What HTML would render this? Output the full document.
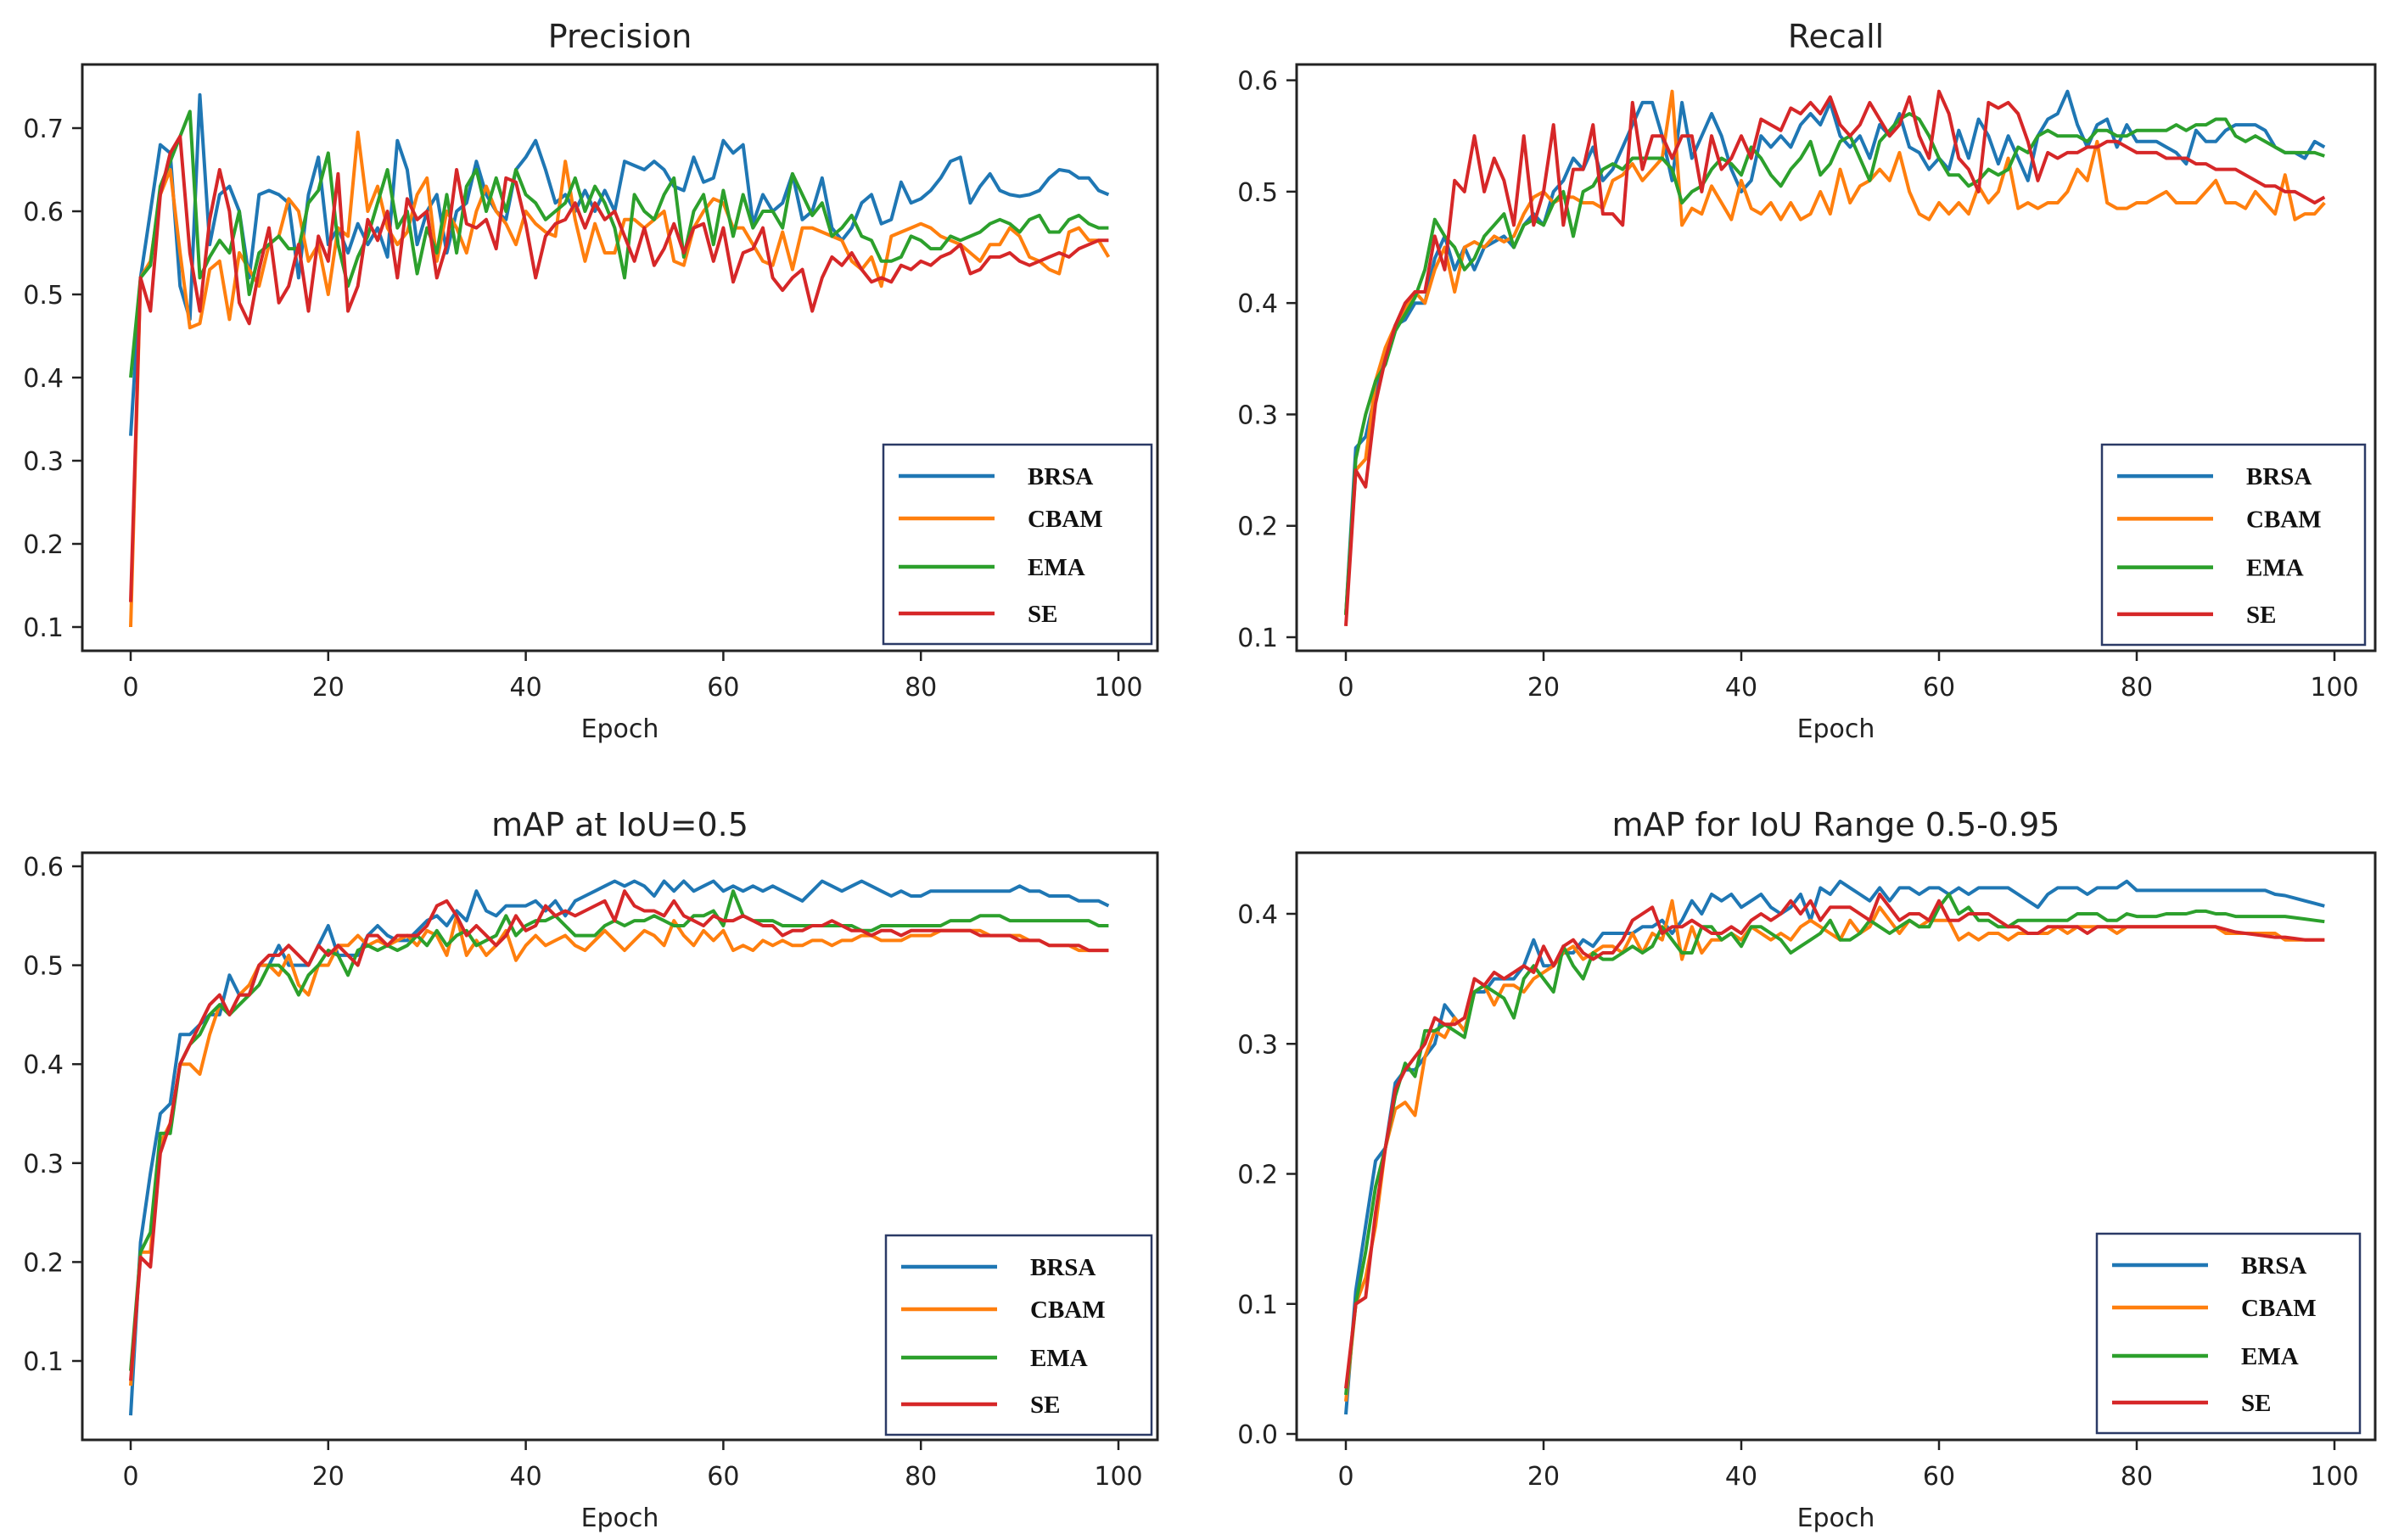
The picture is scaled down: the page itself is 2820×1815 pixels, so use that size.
<!DOCTYPE html>
<html><head><meta charset="utf-8">
<style>
html,body{margin:0;padding:0;background:#fff;}
svg{display:block;}
text{font-family:"DejaVu Sans","Liberation Sans",sans-serif;fill:#222;}
.leg{font-family:"Liberation Serif",serif;font-weight:bold;fill:#111;}
</style></head>
<body>
<svg id="fig" width="2820" height="1815" viewBox="0 0 2820 1815" xmlns="http://www.w3.org/2000/svg"></svg>
<script>
const seriesNames = ["BRSA","CBAM","EMA","SE"];
const seriesColors = ["#1f77b4","#ff7f0e","#2ca02c","#d62728"];
const xTickValues = [0,20,40,60,80,100];

const precisionBRSA=[0.33,0.52,0.60,0.68,0.67,0.51,0.47,0.74,0.56,0.62,0.63,0.60,0.52,0.62,0.625,0.62,0.61,0.52,0.62,0.665,0.56,0.58,0.55,0.585,0.56,0.58,0.545,0.685,0.65,0.56,0.60,0.62,0.55,0.60,0.61,0.66,0.62,0.60,0.59,0.65,0.665,0.685,0.65,0.61,0.62,0.60,0.625,0.60,0.625,0.60,0.66,0.655,0.65,0.66,0.65,0.63,0.625,0.665,0.635,0.64,0.685,0.67,0.68,0.585,0.62,0.60,0.61,0.645,0.59,0.60,0.64,0.58,0.565,0.58,0.61,0.62,0.585,0.59,0.635,0.61,0.615,0.625,0.64,0.66,0.665,0.61,0.63,0.645,0.625,0.62,0.618,0.62,0.625,0.64,0.65,0.648,0.64,0.64,0.625,0.62];
const precisionCBAM=[0.10,0.52,0.54,0.62,0.65,0.55,0.46,0.465,0.53,0.54,0.47,0.55,0.53,0.51,0.56,0.57,0.615,0.60,0.54,0.56,0.50,0.58,0.57,0.695,0.60,0.63,0.58,0.56,0.575,0.62,0.64,0.54,0.60,0.58,0.55,0.60,0.63,0.60,0.585,0.56,0.60,0.585,0.575,0.57,0.66,0.59,0.54,0.585,0.55,0.55,0.59,0.59,0.58,0.59,0.60,0.54,0.535,0.58,0.60,0.615,0.61,0.58,0.58,0.56,0.54,0.535,0.575,0.53,0.58,0.58,0.575,0.57,0.565,0.54,0.53,0.545,0.51,0.57,0.575,0.58,0.585,0.58,0.57,0.565,0.56,0.55,0.54,0.56,0.56,0.58,0.57,0.545,0.54,0.53,0.525,0.575,0.58,0.565,0.565,0.545];
const precisionEMA=[0.40,0.52,0.535,0.63,0.66,0.69,0.72,0.52,0.545,0.565,0.55,0.60,0.50,0.55,0.56,0.57,0.555,0.555,0.61,0.625,0.67,0.56,0.51,0.545,0.57,0.61,0.65,0.58,0.60,0.525,0.58,0.55,0.62,0.55,0.63,0.65,0.60,0.64,0.60,0.65,0.62,0.61,0.59,0.60,0.61,0.64,0.60,0.63,0.61,0.58,0.52,0.62,0.60,0.59,0.62,0.64,0.545,0.60,0.62,0.56,0.625,0.57,0.62,0.58,0.60,0.60,0.58,0.645,0.62,0.595,0.61,0.57,0.58,0.595,0.57,0.565,0.54,0.54,0.545,0.57,0.565,0.555,0.555,0.57,0.565,0.57,0.575,0.585,0.59,0.585,0.575,0.59,0.595,0.575,0.575,0.59,0.595,0.585,0.58,0.58];
const precisionSE=[0.13,0.52,0.48,0.62,0.67,0.69,0.55,0.48,0.59,0.65,0.60,0.49,0.465,0.53,0.58,0.49,0.51,0.56,0.48,0.57,0.54,0.645,0.48,0.51,0.59,0.565,0.60,0.52,0.615,0.59,0.60,0.52,0.56,0.65,0.585,0.58,0.59,0.555,0.64,0.635,0.585,0.52,0.57,0.585,0.59,0.61,0.58,0.61,0.59,0.60,0.57,0.54,0.58,0.535,0.555,0.585,0.55,0.58,0.585,0.54,0.58,0.515,0.55,0.555,0.58,0.52,0.505,0.52,0.53,0.48,0.52,0.545,0.535,0.55,0.53,0.515,0.52,0.515,0.535,0.53,0.54,0.535,0.545,0.55,0.56,0.525,0.53,0.545,0.545,0.55,0.54,0.535,0.54,0.545,0.55,0.545,0.555,0.56,0.565,0.565];

const recallBRSA=[0.12,0.27,0.28,0.32,0.35,0.38,0.385,0.40,0.40,0.44,0.46,0.43,0.45,0.43,0.45,0.455,0.46,0.45,0.47,0.48,0.47,0.50,0.51,0.53,0.52,0.54,0.51,0.52,0.54,0.56,0.58,0.58,0.55,0.51,0.58,0.53,0.55,0.57,0.55,0.52,0.50,0.51,0.55,0.54,0.55,0.54,0.56,0.57,0.56,0.58,0.55,0.54,0.55,0.53,0.56,0.55,0.57,0.54,0.535,0.52,0.53,0.52,0.555,0.53,0.565,0.55,0.525,0.55,0.53,0.51,0.55,0.565,0.57,0.59,0.56,0.54,0.56,0.565,0.54,0.56,0.545,0.545,0.545,0.54,0.535,0.525,0.555,0.545,0.545,0.555,0.56,0.56,0.56,0.555,0.54,0.535,0.535,0.53,0.545,0.54];
const recallCBAM=[0.12,0.25,0.26,0.33,0.36,0.38,0.395,0.41,0.40,0.43,0.45,0.41,0.45,0.455,0.45,0.46,0.455,0.46,0.48,0.495,0.50,0.49,0.495,0.495,0.49,0.49,0.485,0.51,0.515,0.525,0.51,0.52,0.53,0.59,0.47,0.485,0.48,0.505,0.49,0.475,0.51,0.485,0.48,0.49,0.475,0.49,0.475,0.48,0.50,0.48,0.52,0.49,0.505,0.51,0.52,0.51,0.535,0.50,0.48,0.475,0.49,0.48,0.49,0.48,0.505,0.49,0.50,0.53,0.485,0.49,0.485,0.49,0.49,0.50,0.52,0.51,0.545,0.49,0.485,0.485,0.49,0.49,0.495,0.50,0.49,0.49,0.49,0.50,0.51,0.49,0.49,0.485,0.50,0.49,0.48,0.515,0.475,0.48,0.48,0.49];
const recallEMA=[0.12,0.26,0.30,0.33,0.345,0.375,0.39,0.405,0.43,0.475,0.46,0.45,0.43,0.44,0.46,0.47,0.48,0.45,0.47,0.475,0.47,0.49,0.50,0.46,0.50,0.505,0.52,0.525,0.52,0.53,0.53,0.53,0.53,0.52,0.49,0.50,0.505,0.52,0.53,0.525,0.515,0.54,0.53,0.515,0.505,0.52,0.53,0.545,0.515,0.525,0.545,0.55,0.53,0.51,0.545,0.555,0.565,0.57,0.565,0.55,0.53,0.515,0.515,0.505,0.51,0.52,0.515,0.52,0.54,0.535,0.55,0.555,0.55,0.55,0.55,0.545,0.555,0.555,0.55,0.55,0.555,0.555,0.555,0.555,0.56,0.555,0.56,0.56,0.565,0.565,0.55,0.545,0.55,0.545,0.54,0.535,0.535,0.535,0.535,0.532];
const recallSE=[0.11,0.25,0.235,0.31,0.35,0.38,0.40,0.41,0.41,0.46,0.43,0.51,0.50,0.55,0.50,0.53,0.51,0.47,0.55,0.47,0.50,0.56,0.47,0.52,0.52,0.56,0.48,0.48,0.47,0.58,0.52,0.55,0.55,0.53,0.55,0.55,0.50,0.55,0.52,0.53,0.55,0.53,0.565,0.56,0.555,0.575,0.57,0.58,0.57,0.585,0.56,0.55,0.56,0.58,0.565,0.55,0.56,0.585,0.55,0.53,0.59,0.57,0.53,0.52,0.50,0.58,0.575,0.58,0.57,0.545,0.51,0.535,0.53,0.535,0.535,0.54,0.54,0.545,0.545,0.54,0.535,0.535,0.535,0.53,0.53,0.53,0.525,0.525,0.52,0.52,0.52,0.515,0.51,0.505,0.505,0.50,0.50,0.495,0.49,0.495];

const map50BRSA=[0.045,0.22,0.29,0.35,0.36,0.43,0.43,0.44,0.45,0.45,0.49,0.47,0.47,0.50,0.50,0.52,0.50,0.50,0.50,0.52,0.54,0.51,0.51,0.51,0.53,0.54,0.53,0.525,0.525,0.535,0.545,0.55,0.54,0.555,0.545,0.575,0.555,0.55,0.56,0.56,0.56,0.565,0.555,0.565,0.55,0.565,0.57,0.575,0.58,0.585,0.58,0.585,0.58,0.57,0.585,0.575,0.585,0.575,0.58,0.585,0.575,0.58,0.575,0.58,0.575,0.58,0.575,0.57,0.565,0.575,0.585,0.58,0.575,0.58,0.585,0.58,0.575,0.57,0.575,0.57,0.57,0.575,0.575,0.575,0.575,0.575,0.575,0.575,0.575,0.575,0.58,0.575,0.575,0.57,0.57,0.57,0.565,0.565,0.565,0.56];
const map50CBAM=[0.075,0.21,0.21,0.32,0.34,0.40,0.40,0.39,0.43,0.46,0.45,0.47,0.48,0.50,0.50,0.49,0.51,0.48,0.47,0.50,0.50,0.52,0.52,0.53,0.52,0.525,0.52,0.525,0.53,0.52,0.535,0.53,0.51,0.55,0.51,0.525,0.51,0.52,0.535,0.505,0.52,0.53,0.52,0.525,0.53,0.52,0.515,0.525,0.535,0.525,0.515,0.525,0.535,0.53,0.52,0.545,0.53,0.52,0.535,0.525,0.535,0.515,0.52,0.515,0.525,0.52,0.525,0.52,0.52,0.525,0.525,0.52,0.525,0.525,0.53,0.53,0.525,0.525,0.525,0.53,0.53,0.53,0.535,0.535,0.535,0.535,0.535,0.53,0.53,0.53,0.53,0.525,0.525,0.52,0.52,0.52,0.515,0.515,0.515,0.515];
const map50EMA=[0.09,0.21,0.23,0.33,0.33,0.40,0.42,0.43,0.45,0.46,0.45,0.46,0.47,0.48,0.50,0.50,0.49,0.47,0.49,0.50,0.515,0.51,0.49,0.515,0.52,0.515,0.52,0.515,0.52,0.53,0.52,0.535,0.52,0.53,0.535,0.52,0.525,0.53,0.55,0.53,0.54,0.545,0.545,0.55,0.54,0.53,0.53,0.53,0.54,0.545,0.54,0.545,0.545,0.55,0.545,0.54,0.54,0.55,0.55,0.555,0.54,0.575,0.55,0.545,0.545,0.545,0.54,0.54,0.54,0.54,0.54,0.54,0.54,0.54,0.535,0.535,0.54,0.54,0.54,0.54,0.54,0.54,0.54,0.545,0.545,0.545,0.55,0.55,0.55,0.545,0.545,0.545,0.545,0.545,0.545,0.545,0.545,0.545,0.54,0.54];
const map50SE=[0.08,0.205,0.195,0.31,0.34,0.40,0.42,0.44,0.46,0.47,0.45,0.47,0.47,0.50,0.51,0.51,0.52,0.51,0.50,0.52,0.51,0.52,0.51,0.50,0.53,0.53,0.52,0.53,0.53,0.53,0.54,0.56,0.565,0.55,0.53,0.54,0.53,0.52,0.53,0.55,0.535,0.54,0.56,0.55,0.555,0.55,0.555,0.56,0.565,0.545,0.575,0.56,0.555,0.555,0.55,0.565,0.55,0.545,0.54,0.55,0.545,0.545,0.55,0.545,0.54,0.54,0.53,0.535,0.535,0.54,0.54,0.545,0.54,0.535,0.535,0.53,0.535,0.535,0.53,0.535,0.535,0.535,0.535,0.535,0.535,0.535,0.53,0.53,0.53,0.53,0.525,0.525,0.525,0.52,0.52,0.52,0.52,0.515,0.515,0.515];

const map5095BRSA=[0.015,0.11,0.16,0.21,0.22,0.27,0.28,0.28,0.29,0.30,0.33,0.32,0.31,0.34,0.34,0.35,0.35,0.35,0.36,0.38,0.36,0.36,0.37,0.37,0.38,0.375,0.385,0.385,0.385,0.385,0.39,0.39,0.395,0.385,0.395,0.41,0.40,0.415,0.41,0.415,0.405,0.41,0.415,0.405,0.40,0.405,0.415,0.395,0.42,0.415,0.425,0.42,0.415,0.41,0.42,0.41,0.42,0.42,0.415,0.42,0.42,0.415,0.42,0.415,0.42,0.42,0.42,0.42,0.415,0.41,0.405,0.415,0.42,0.42,0.42,0.415,0.42,0.42,0.42,0.425,0.418,0.418,0.418,0.418,0.418,0.418,0.418,0.418,0.418,0.418,0.418,0.418,0.418,0.418,0.415,0.414,0.412,0.41,0.408,0.406];
const map5095CBAM=[0.025,0.10,0.12,0.16,0.22,0.25,0.255,0.245,0.29,0.31,0.305,0.32,0.31,0.34,0.345,0.33,0.345,0.345,0.34,0.35,0.355,0.36,0.37,0.375,0.365,0.37,0.375,0.375,0.37,0.385,0.37,0.385,0.38,0.41,0.365,0.39,0.37,0.38,0.38,0.385,0.38,0.39,0.385,0.38,0.385,0.38,0.39,0.395,0.39,0.385,0.38,0.395,0.385,0.39,0.405,0.395,0.385,0.395,0.39,0.395,0.395,0.395,0.38,0.385,0.38,0.385,0.385,0.38,0.385,0.385,0.385,0.385,0.39,0.385,0.39,0.39,0.39,0.39,0.385,0.39,0.39,0.39,0.39,0.39,0.39,0.39,0.39,0.39,0.39,0.385,0.385,0.385,0.385,0.385,0.385,0.38,0.38,0.38,0.38,0.38];
const map5095EMA=[0.03,0.10,0.14,0.19,0.22,0.26,0.285,0.275,0.31,0.31,0.315,0.31,0.305,0.34,0.345,0.34,0.335,0.32,0.35,0.36,0.35,0.34,0.375,0.36,0.35,0.37,0.365,0.365,0.37,0.375,0.37,0.375,0.39,0.38,0.37,0.37,0.39,0.39,0.38,0.385,0.375,0.39,0.39,0.385,0.38,0.37,0.375,0.38,0.385,0.395,0.38,0.38,0.385,0.395,0.39,0.385,0.39,0.395,0.39,0.39,0.405,0.415,0.40,0.405,0.395,0.395,0.39,0.39,0.395,0.395,0.395,0.395,0.395,0.395,0.4,0.4,0.4,0.395,0.395,0.4,0.398,0.398,0.398,0.4,0.4,0.4,0.402,0.402,0.4,0.4,0.398,0.398,0.398,0.398,0.398,0.398,0.397,0.396,0.395,0.394];
const map5095SE=[0.035,0.10,0.105,0.17,0.22,0.265,0.28,0.29,0.30,0.32,0.315,0.315,0.32,0.35,0.345,0.355,0.35,0.355,0.36,0.355,0.375,0.36,0.375,0.38,0.37,0.365,0.37,0.37,0.38,0.395,0.40,0.405,0.385,0.39,0.39,0.395,0.39,0.385,0.385,0.39,0.385,0.395,0.4,0.395,0.40,0.41,0.40,0.41,0.395,0.405,0.405,0.405,0.40,0.395,0.415,0.405,0.395,0.40,0.4,0.395,0.41,0.395,0.395,0.4,0.4,0.4,0.395,0.39,0.39,0.385,0.385,0.39,0.39,0.39,0.39,0.385,0.39,0.39,0.39,0.39,0.39,0.39,0.39,0.39,0.39,0.39,0.39,0.39,0.39,0.388,0.386,0.385,0.384,0.383,0.382,0.382,0.381,0.38,0.38,0.38];

const precisionTicks=[0.1,0.2,0.3,0.4,0.5,0.6,0.7];
const recallTicks=[0.1,0.2,0.3,0.4,0.5,0.6];
const map50Ticks=[0.1,0.2,0.3,0.4,0.5,0.6];
const map5095Ticks=[0.0,0.1,0.2,0.3,0.4];

const NS="http://www.w3.org/2000/svg";
const svg=document.getElementById('fig');
function mk(tag,attrs,parent){const e=document.createElementNS(NS,tag);for(const k in attrs)e.setAttribute(k,attrs[k]);(parent||svg).appendChild(e);return e;}

// layout geometry per panel
const panels=[
 {key:'precision',title:'Precision',series:[precisionBRSA,precisionCBAM,precisionEMA,precisionSE],ticks:precisionTicks,
  box:[97,76,1364,767],x0:154,x100:1318,yA:[0.1,739],yB:[0.7,151],leg:[1041,524,1357,759],dec:1},
 {key:'recall',title:'Recall',series:[recallBRSA,recallCBAM,recallEMA,recallSE],ticks:recallTicks,
  box:[1528,76,2799,767],x0:1586,x100:2751,yA:[0.1,751],yB:[0.6,94.6],leg:[2477,524,2787,760],dec:1},
 {key:'map50',title:'mAP at IoU=0.5',series:[map50BRSA,map50CBAM,map50EMA,map50SE],ticks:map50Ticks,
  box:[97,1005,1364,1697],x0:154,x100:1318,yA:[0.1,1604],yB:[0.6,1021],leg:[1044,1456,1357,1691],dec:1},
 {key:'map5095',title:'mAP for IoU Range 0.5-0.95',series:[map5095BRSA,map5095CBAM,map5095EMA,map5095SE],ticks:map5095Ticks,
  box:[1528,1005,2799,1697],x0:1586,x100:2751,yA:[0.0,1690],yB:[0.4,1077],leg:[2471,1454,2781,1689],dec:1}
];

panels.forEach(p=>{
  const g=mk('g',{});
  
  
  const xs=v=>p.x0+(v/100)*(p.x100-p.x0);
  const ys=v=>p.yA[1]+(v-p.yA[0])*(p.yB[1]-p.yA[1])/(p.yB[0]-p.yA[0]);
  const [L,T,R,B]=p.box;
  const cx=(L+R)/2;
  const t=mk('text',{x:cx,y:T-20,'text-anchor':'middle','font-size':38},g);
  t.textContent=p.title;
  
  
  // lines
  const clipId='clip-'+p.key;
  const cp=mk('clipPath',{id:clipId},g);mk('rect',{x:L,y:T,width:R-L,height:B-T},cp);
  p.series.forEach((arr,si)=>{
    const d=arr.map((v,i)=>(i?'L':'M')+xs(i).toFixed(1)+' '+ys(v).toFixed(1)).join(' ');
    const path=mk('path',{d:d,fill:'none',stroke:seriesColors[si],'stroke-width':4,'stroke-linejoin':'round','clip-path':'url(#'+clipId+')'},g);
    
    
  });
  // frame
  const fr=mk('rect',{x:L,y:T,width:R-L,height:B-T,fill:'none',stroke:'#222','stroke-width':3},g);
  
  
  // x ticks
  xTickValues.forEach(v=>{
    const x=xs(v);
    mk('line',{x1:x,y1:B,x2:x,y2:B+12,stroke:'#222','stroke-width':2.5},g);
    const tl=mk('text',{x:x,y:B+53,'text-anchor':'middle','font-size':30},g);
    tl.textContent=String(v);
    
    
  });
  // y ticks
  p.ticks.forEach(v=>{
    const y=ys(v);
    mk('line',{x1:L-12,y1:y,x2:L,y2:y,stroke:'#222','stroke-width':2.5},g);
    const tl=mk('text',{x:L-22,y:y+11,'text-anchor':'end','font-size':30},g);
    tl.textContent=v.toFixed(p.dec);
    
    
  });
  const xl=mk('text',{x:cx,y:B+102,'text-anchor':'middle','font-size':30},g);
  xl.textContent='Epoch';
  
  
  // legend
  const [lx1,ly1,lx2,ly2]=p.leg;
  const lg=mk('g',{},g);
  
  
  mk('rect',{x:lx1,y:ly1,width:lx2-lx1,height:ly2-ly1,fill:'#fff',stroke:'#2b3a66','stroke-width':2.5},lg);
  const rowOff=[37,87,144,199];
  seriesNames.forEach((n,si)=>{
    const ry=ly1+rowOff[si]*(ly2-ly1)/235;
    const e=mk('g',{},lg);
    
    
    mk('line',{x1:lx1+18,y1:ry,x2:lx1+131,y2:ry,stroke:seriesColors[si],'stroke-width':4.5},e);
    const tt=mk('text',{x:lx1+170,y:ry+10,'font-size':29,class:'leg'},e);
    tt.textContent=n;
  });
});
</script>
</body></html>
